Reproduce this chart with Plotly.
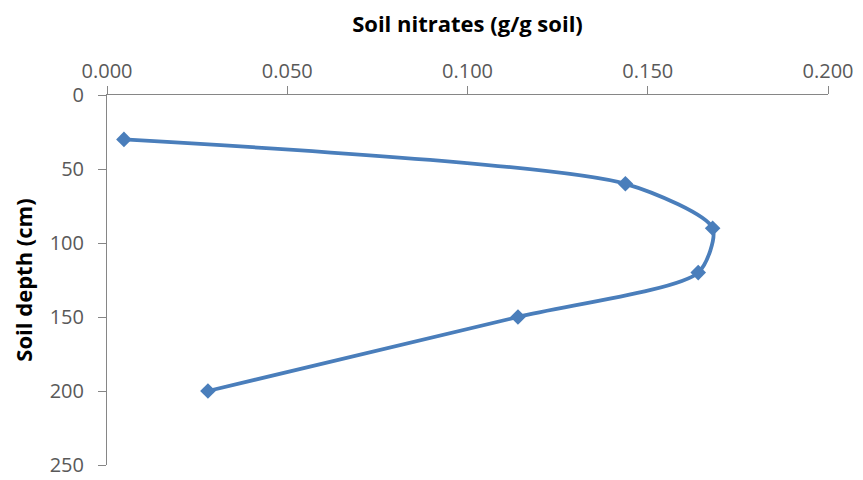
import plotly.graph_objects as go

nitrates = [0.0047, 0.1438, 0.168, 0.164, 0.114, 0.028]
depth = [30, 60, 90, 120, 150, 200]
x_ticks = [0.0, 0.05, 0.10, 0.15, 0.20]
x_tick_labels = ["0.000", "0.050", "0.100", "0.150", "0.200"]
y_ticks = [0, 50, 100, 150, 200, 250]

fig = go.Figure()
fig.add_trace(go.Scatter(
    x=nitrates, y=depth, mode="lines+markers",
    line=dict(color="#4A7EBB", width=3.8, shape="spline", smoothing=0.7),
    marker=dict(symbol="diamond", size=12, color="#4A7EBB"),
    showlegend=False,
))

font_family = "Open Sans, Noto Sans, sans-serif"
# page body has an 8px default margin, so the figure is shrunk and margins adjusted
fig.update_layout(
    width=855, height=472,
    margin=dict(l=99, r=35, t=87, b=15),
    paper_bgcolor="white", plot_bgcolor="white",
    font=dict(family=font_family, color="#595959", size=14),
    xaxis=dict(
        side="top", range=[0, 0.2], tickvals=x_ticks, ticktext=x_tick_labels,
        showgrid=False, zeroline=False, showline=True, linecolor="#868686", linewidth=1,
        ticks="outside", ticklen=8, tickcolor="#868686", automargin=False,
        tickfont=dict(size=20, color="#595959"), ticklabeloverflow="allow",
        title=dict(text="<b>Soil nitrates (g/g soil)</b>", font=dict(size=22, color="#000000"), standoff=18),
    ),
    yaxis=dict(
        range=[250, 0], tickvals=y_ticks,
        showgrid=False, zeroline=False, showline=True, linecolor="#868686", linewidth=1,
        ticks="outside", ticklen=8, tickcolor="#868686", automargin=False,
        tickfont=dict(size=20, color="#595959"), ticklabeloverflow="allow",
        ticklabelstandoff=10,
        title=dict(text="<b>Soil depth (cm)</b>", font=dict(size=22, color="#000000"), standoff=19),
    ),
)

fig.write_html("out.html")
